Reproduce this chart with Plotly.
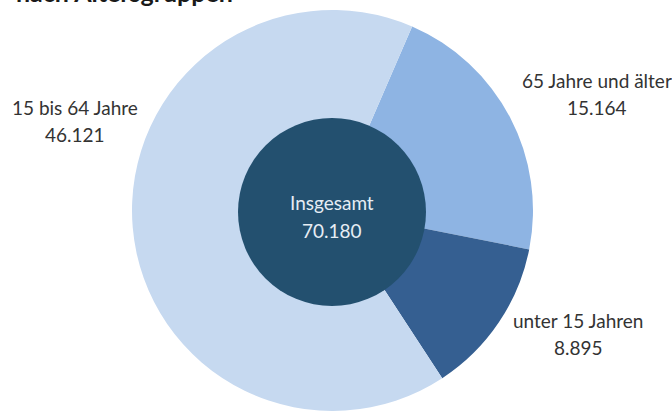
import plotly.graph_objects as go

# Data
categories = ["65 Jahre und älter", "unter 15 Jahren", "15 bis 64 Jahre"]
values = [15164, 8895, 46121]
total_label = "Insgesamt"
total_value = 70180
title_text = "nach Altersgruppen"

colors = ["#8EB4E3", "#355F91", "#C6D9F0"]
inner_color = "#23506F"

W, H = 672, 411


def fmt(v):
    return f"{v:,}".replace(",", ".")


def px_dom(cx, cy, r):
    # convert pixel center/radius to paper domain
    return dict(x=[(cx - r) / W, (cx + r) / W], y=[(H - cy - r) / H, (H - cy + r) / H])


fig = go.Figure()
fig.add_trace(go.Pie(
    labels=categories, values=values, sort=False, direction="clockwise",
    rotation=23.4, hole=0.44, marker=dict(colors=colors, line=dict(width=0)),
    textinfo="none", hoverinfo="label+value", showlegend=False,
    domain=px_dom(332.5, 210.5, 200.5),
))
fig.add_trace(go.Pie(
    labels=[total_label], values=[total_value], sort=False,
    marker=dict(colors=[inner_color], line=dict(width=0)),
    textinfo="none", hoverinfo="label+value", showlegend=False,
    domain=px_dom(332, 212, 94),
))

font_family = "Lato, 'Open Sans', sans-serif"
label_pos = {
    "65 Jahre und älter": (597, 80),
    "unter 15 Jahren": (578, 320),
    "15 bis 64 Jahre": (75, 107),
}
annotations = []
for cat, val in zip(categories, values):
    x, y = label_pos[cat]
    for i, t in enumerate([cat, fmt(val)]):
        annotations.append(dict(
            x=x / W, y=(H - (y + i * 27)) / H, xref="paper", yref="paper",
            text=t, showarrow=False, xanchor="center", yanchor="middle",
            font=dict(family=font_family, size=19, color="#333333"),
        ))
for i, t in enumerate([total_label, fmt(total_value)]):
    annotations.append(dict(
        x=332 / W, y=(H - (203 + i * 27)) / H, xref="paper", yref="paper",
        text=t, showarrow=False, xanchor="center", yanchor="middle",
        font=dict(family=font_family, size=19, color="#E6EDF4"),
    ))
annotations.append(dict(
    x=14 / W, y=(H + 8) / H, xref="paper", yref="paper", text=f"<b>{title_text}</b>",
    showarrow=False, xanchor="left", yanchor="middle",
    font=dict(family=font_family, size=25, color="#1a1a1a"),
))

fig.update_layout(
    width=W, height=H, margin=dict(l=0, r=0, t=0, b=0),
    paper_bgcolor="white", plot_bgcolor="white",
    annotations=annotations,
)

fig.write_html(
    "out.html",
    config={"displayModeBar": False},
    post_script="document.body.style.margin='0';document.body.style.overflow='hidden';",
)
